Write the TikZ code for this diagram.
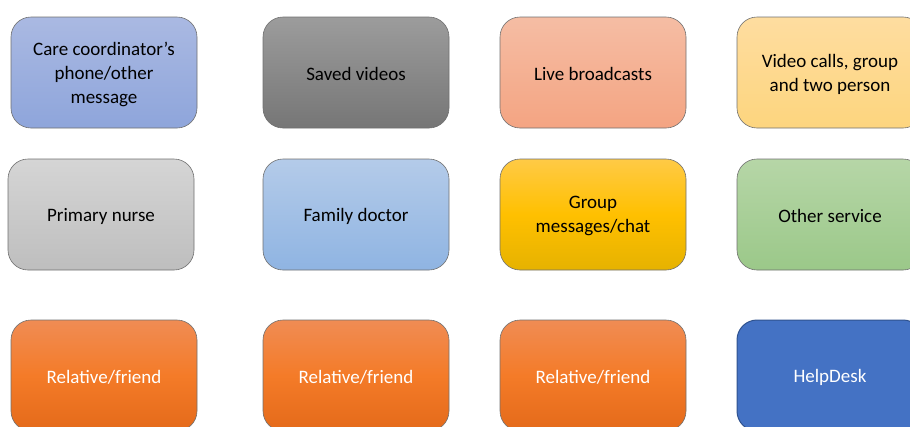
\documentclass[tikz,border=0pt]{standalone}
\usepackage{fontspec}
\setmainfont{Carlito}
\definecolor{boxline}{RGB}{112,112,112}
\definecolor{coordtop}{RGB}{170,185,226}
\definecolor{coordbot}{RGB}{142,165,219}
\definecolor{savedtop}{RGB}{156,156,156}
\definecolor{savedbot}{RGB}{118,118,118}
\definecolor{livetop}{RGB}{245,189,164}
\definecolor{livebot}{RGB}{244,164,130}
\definecolor{calltop}{RGB}{254,221,160}
\definecolor{callbot}{RGB}{253,213,126}
\definecolor{nursetop}{RGB}{213,213,213}
\definecolor{nursebot}{RGB}{190,190,190}
\definecolor{doctortop}{RGB}{180,203,233}
\definecolor{doctorbot}{RGB}{143,180,226}
\definecolor{chattop}{RGB}{255,202,70}
\definecolor{chatmid}{RGB}{255,192,0}
\definecolor{chatbot}{RGB}{230,178,0}
\definecolor{othertop}{RGB}{182,214,167}
\definecolor{otherbot}{RGB}{155,200,137}
\definecolor{reltop}{RGB}{240,140,84}
\definecolor{relmid}{RGB}{244,123,40}
\definecolor{relbot}{RGB}{228,106,26}
\definecolor{helpfill}{RGB}{68,114,196}
\definecolor{helpline}{RGB}{47,82,143}
\tikzset{
  box/.style={draw=boxline, line width=0.6pt, rounded corners=20pt,
    minimum width=186pt, minimum height=111pt, inner sep=0pt},
  boxtext/.style={align=center, inner sep=0pt, yshift=-1.5pt,
    font=\fontsize{19}{24}\selectfont},
  txt/.style={label={[boxtext]center:{#1}}},
  wtxt/.style={label={[boxtext, text=white]center:{#1}}},
  shadebox/.style 2 args={box, top color=#1, bottom color=#2},
  relbox/.style={box, top color=reltop, bottom color=relbot, middle color=relmid},
  helpbox/.style={box, draw=helpline, line width=1pt, fill=helpfill}
}
\begin{document}
\begin{tikzpicture}[x=1pt,y=-1pt]
\clip (0,0) rectangle (910,426);
% first row
\node [shadebox={coordtop}{coordbot}, txt={Care coordinator’s\\phone/other\\message}] (coord) at (104,72.5) {};
\node [shadebox={savedtop}{savedbot}, txt={Saved videos}] (saved) at (356,72.5) {};
\node [shadebox={livetop}{livebot}, txt={Live broadcasts}] (live) at (593,72.5) {};
\node [shadebox={calltop}{callbot}, txt={Video calls, group\\and two person}] (calls) at (830,72.5) {};
% second row
\node [shadebox={nursetop}{nursebot}, txt={Primary nurse}] (nurse) at (101,214.5) {};
\node [shadebox={doctortop}{doctorbot}, txt={Family doctor}] (doctor) at (356,214.5) {};
\node [box, top color=chattop, bottom color=chatbot, middle color=chatmid,
  txt={Group\\messages/chat}] (chat) at (593,214.5) {};
\node [shadebox={othertop}{otherbot}, txt={Other service}] (other) at (830,214.5) {};
% third row
\foreach \x/\n in {104/a,356/b,593/c}
  \node [relbox, wtxt={Relative/friend}] (rel\n) at (\x,375.5) {};
\node [helpbox, wtxt={HelpDesk}] (help) at (830,375.5) {};
\end{tikzpicture}
\end{document}
